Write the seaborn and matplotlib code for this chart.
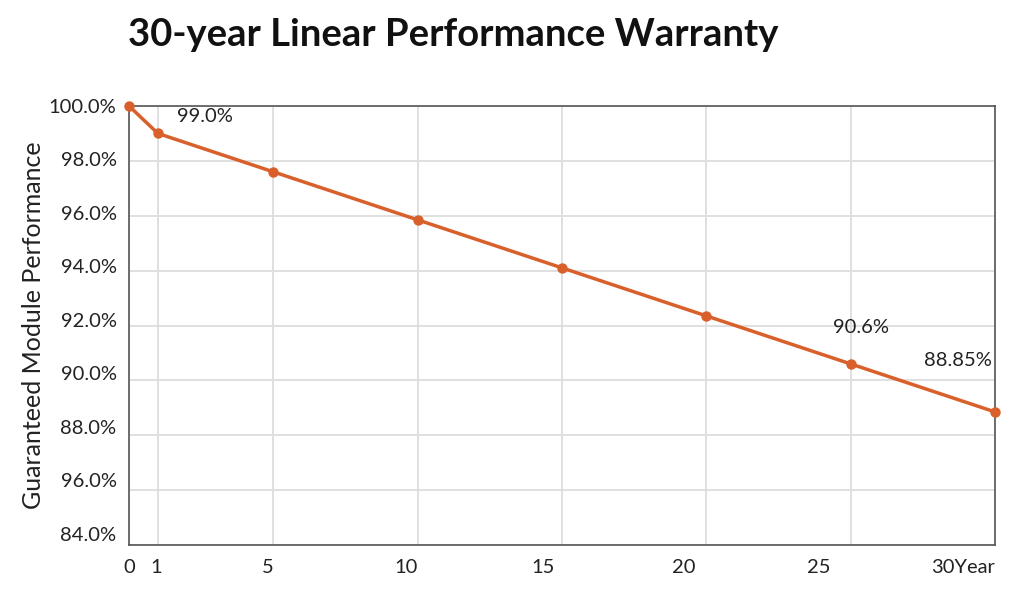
import matplotlib
matplotlib.use("Agg")
import matplotlib.pyplot as plt
import matplotlib.transforms as mtransforms
import seaborn as sns
import pandas as pd

# warranty curve
years = [0, 1, 5, 10, 15, 20, 25, 30]
performance = [100.0, 99.0, 97.6, 95.85, 94.1, 92.35, 90.6, 88.85]

xtick_labels = ["0", "1", "5", "10", "15", "20", "25", "30Year"]
ytick_values = [100, 98, 96, 94, 92, 90, 88, 86, 84]
ytick_labels = ["100.0%", "98.0%", "96.0%", "94.0%", "92.0%", "90.0%", "88.0%", "96.0%", "84.0%"]

annot_years = [1, 25, 30]
annot_text = ["99.0%", "90.6%", "88.85%"]

data = pd.DataFrame({"year": years, "perf": performance})

sns.set_theme(style="white")
plt.rcParams["font.family"] = ["Lato", "DejaVu Sans"]

orange = "#d9602a"
fig, ax = plt.subplots(figsize=(10.24, 5.92), dpi=100)
fig.subplots_adjust(left=129 / 1024, right=995 / 1024, top=1 - 106 / 592, bottom=1 - 545 / 592)

sns.lineplot(data=data, x="year", y="perf", color=orange, linewidth=2.5,
             marker="o", markersize=7.5, markeredgewidth=0, ax=ax, zorder=5, clip_on=False)

ax.set_xlim(0, 30)
ax.set_ylim(84, 100)
ax.set_xticks(years)
ax.set_xticklabels(xtick_labels)
ax.set_yticks(ytick_values)
ax.set_yticklabels(ytick_labels)
ax.grid(True, color="#e0e0e0", linewidth=1.4)
ax.tick_params(axis="both", length=0, labelsize=14.5, colors="#222222")
ax.tick_params(axis="x", pad=10)
ax.tick_params(axis="y", pad=9)
for s in ax.spines.values():
    s.set_color("#555555")
    s.set_linewidth(1.2)

# tick labels in the original sit slightly off their grid lines
x_shift = [0, -2, -6, -12, -19, -23, -32, 0]
for lab, dx in zip(ax.get_xticklabels(), x_shift):
    lab.set_transform(lab.get_transform() + mtransforms.ScaledTranslation(dx / 100, 0, fig.dpi_scale_trans))
ax.get_xticklabels()[-1].set_horizontalalignment("right")
for i, lab in enumerate(ax.get_yticklabels()):
    lab.set_transform(lab.get_transform() + mtransforms.ScaledTranslation(0, 1.4 * i / 100, fig.dpi_scale_trans))

ax.set_xlabel("")
ax.set_ylabel("Guaranteed Module Performance", fontsize=18, color="#222222", labelpad=3)

offsets = [(47, 17, "center"), (10, 36, "center"), (-3, 51, "right")]
for yr, txt, (dx, dy, ha) in zip(annot_years, annot_text, offsets):
    val = performance[years.index(yr)]
    ax.annotate(txt, (yr, val), xytext=(dx * 0.72, dy * 0.72), textcoords="offset points",
                ha=ha, va="center", fontsize=14.5, color="#222222")

fig.text(128 / 1024, 1 - 35 / 592, "30-year Linear Performance Warranty", fontsize=27.5,
         fontweight="bold", color="#111111", ha="left", va="center")

fig.savefig("out.png", dpi=100)
